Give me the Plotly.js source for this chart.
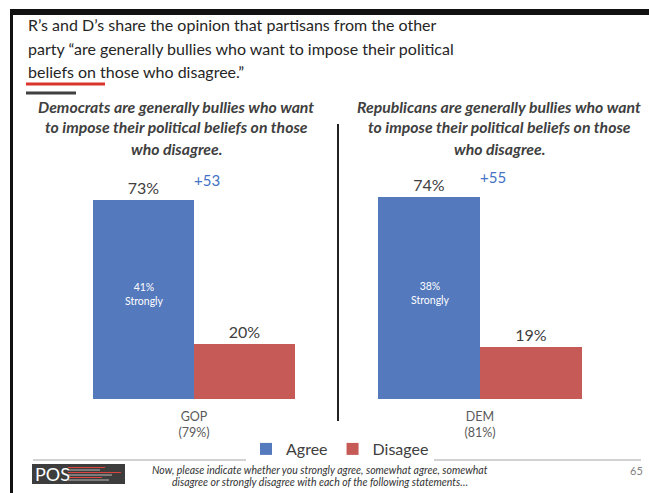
<!DOCTYPE html>
<html>
<head>
<meta charset="utf-8">
<script src="https://cdn.plot.ly/plotly-3.0.1.min.js"></script>
<style>html,body{margin:0;padding:0;background:#fff;}#chart{width:649px;height:493px;}</style>
</head>
<body>
<div id="chart"></div>
<script>
// ---- data ----
const panels = ["GOP", "DEM"];
const panelBase = ["(79%)", "(81%)"];
const agree = [73, 74];
const disagree = [20, 19];
const strongly = [41, 38];
const net = [53, 55];
const seriesNames = ["Agree", "Disagee"];
const titleLines = [
  "R\u2019s and D\u2019s share the opinion that partisans from the other",
  "party \u201care generally bullies who want to impose their political",
  "beliefs on those who disagree.\u201d"
];
const panelTitleLines = [
  ["Democrats are generally bullies who want", "to impose their political beliefs on those", "who disagree."],
  ["Republicans are generally bullies who want", "to impose their political beliefs on those", "who disagree."]
];
const footnoteLines = [
  "Now, please indicate whether you strongly agree, somewhat agree, somewhat",
  "disagree or strongly disagree with each of the following statements\u2026"
];
const pageNumber = "65";

const W = 649, H = 493;
const px = v => v / W;
const py = v => 1 - v / H;
const FONT = "Lato, 'Open Sans', sans-serif";
const BLUE = "#5479bd", RED = "#c55a56";

const traces = [];
const annotations = [];
const axes = ["", "2"];
for (let i = 0; i < panels.length; i++) {
  const xa = "x" + axes[i], ya = "y" + axes[i];
  const label = panels[i] + "<br>" + panelBase[i];
  traces.push({
    type: "bar", x: [label], y: [agree[i]], name: seriesNames[0],
    xaxis: xa, yaxis: ya, marker: {color: BLUE},
    text: [agree[i] + "%"], textposition: "outside", cliponaxis: false,
    textfont: {color: "#404040", size: 16, family: FONT},
    showlegend: i === 0, legendgroup: "a", hoverinfo: "none"
  });
  traces.push({
    type: "bar", x: [label], y: [disagree[i]], name: seriesNames[1],
    xaxis: xa, yaxis: ya, marker: {color: RED},
    text: [disagree[i] + "%"], textposition: "outside", cliponaxis: false,
    textfont: {color: "#404040", size: 16, family: FONT},
    showlegend: i === 0, legendgroup: "d", hoverinfo: "none"
  });
  annotations.push({
    xref: xa, yref: ya, x: label, xshift: -50, y: agree[i] / 2, yshift: 5,
    xanchor: "center", yanchor: "middle",
    text: strongly[i] + "%<br>Strongly", showarrow: false,
    font: {color: "#ffffff", size: 10.5, family: FONT}, align: "center"
  });
  annotations.push({
    xref: xa, yref: ya, x: label, xshift: 13, y: agree[i], yanchor: "bottom", yshift: 9,
    xanchor: "center",
    text: "+" + net[i], showarrow: false,
    font: {color: "#4472c4", size: 15, family: FONT}
  });
  const cx = i === 0 ? 176 : 499;
  const ly = [107, 127, 148];
  panelTitleLines[i].forEach((t, k) => {
    annotations.push({
      xref: "paper", yref: "paper", x: px(cx), y: py(ly[k]), xanchor: "center", yanchor: "middle",
      text: "<b><i>" + t + "</i></b>", showarrow: false,
      font: {color: "#404040", size: 15.8, family: FONT}
    });
  });
}

const tly = [25, 48, 71];
titleLines.forEach((t, k) => {
  annotations.push({
    xref: "paper", yref: "paper", x: px(26), y: py(tly[k]), xanchor: "left", yanchor: "middle",
    text: t, showarrow: false, font: {color: "#262626", size: 16, family: FONT}
  });
});
const fy = [470, 482];
footnoteLines.forEach((t, k) => {
  annotations.push({
    xref: "paper", yref: "paper", x: px(320), y: py(fy[k]), xanchor: "center", yanchor: "middle",
    text: "<i>" + t + "</i>", showarrow: false, font: {color: "#333333", size: 10.5, family: FONT}
  });
});
annotations.push({
  xref: "paper", yref: "paper", x: px(636), y: py(470), xanchor: "center", yanchor: "middle",
  text: pageNumber, showarrow: false, font: {color: "#7f7f7f", size: 11, family: FONT}
});
annotations.push({
  xref: "paper", yref: "paper", x: px(33), y: py(474), xanchor: "left", yanchor: "middle",
  text: "POS", showarrow: false, font: {color: "#ffffff", size: 18, family: FONT}
});

const shapes = [
  // frame
  {type: "rect", xref: "paper", yref: "paper", x0: px(10), x1: px(649), y0: py(9), y1: py(15), fillcolor: "#111", line: {width: 0}},
  {type: "rect", xref: "paper", yref: "paper", x0: px(10), x1: px(13), y0: py(9), y1: py(493), fillcolor: "#111", line: {width: 0}},
  // title underlines
  {type: "line", xref: "paper", yref: "paper", x0: px(26), x1: px(105), y0: py(84), y1: py(84), line: {color: "#d9352b", width: 3}},
  {type: "line", xref: "paper", yref: "paper", x0: px(26), x1: px(76), y0: py(93), y1: py(93), line: {color: "#404040", width: 3}},
  // divider
  {type: "line", xref: "paper", yref: "paper", x0: px(338), x1: px(338), y0: py(124), y1: py(421), line: {color: "#222", width: 2}},
  // footer line
  {type: "line", xref: "paper", yref: "paper", x0: px(33), x1: px(641), y0: py(460), y1: py(460), line: {color: "#a6a6a6", width: 1}},
  // logo
  {type: "rect", xref: "paper", yref: "paper", x0: px(32), x1: px(125), y0: py(464), y1: py(484), fillcolor: "#3d3d3d", line: {width: 0}},
  {type: "line", xref: "paper", yref: "paper", x0: px(68), x1: px(105), y0: py(467.5), y1: py(467.5), line: {color: "#d9453e", width: 1}},
  {type: "line", xref: "paper", yref: "paper", x0: px(68), x1: px(100), y0: py(470), y1: py(470), line: {color: "#bbbbbb", width: 1}},
  {type: "line", xref: "paper", yref: "paper", x0: px(68), x1: px(121), y0: py(472.5), y1: py(472.5), line: {color: "#d9453e", width: 1}},
  {type: "line", xref: "paper", yref: "paper", x0: px(68), x1: px(112), y0: py(475), y1: py(475), line: {color: "#bbbbbb", width: 1}},
  {type: "line", xref: "paper", yref: "paper", x0: px(68), x1: px(102), y0: py(477.5), y1: py(477.5), line: {color: "#d9453e", width: 1}},
  {type: "line", xref: "paper", yref: "paper", x0: px(68), x1: px(109), y0: py(480), y1: py(480), line: {color: "#bbbbbb", width: 1}}
];

const yTop = 180.6; // px where y=80
const ydom = [1 - 399 / H, 1 - yTop / H];
const xaxisBase = {type: "category", showgrid: false, zeroline: false, showline: false, ticks: "",
  ticklabelstandoff: 8,
  tickfont: {color: "#595959", size: 12.5, family: FONT}, fixedrange: true};
const yaxisBase = {range: [0, 80], visible: false, showgrid: false, zeroline: false, fixedrange: true};

const layout = {
  width: W, height: H,
  margin: {l: 0, r: 0, t: 0, b: 0},
  paper_bgcolor: "#ffffff", plot_bgcolor: "rgba(0,0,0,0)",
  barmode: "group", bargap: 0, bargroupgap: 0,
  font: {family: FONT},
  xaxis: Object.assign({}, xaxisBase, {domain: [px(93), px(295)], anchor: "y"}),
  yaxis: Object.assign({}, yaxisBase, {domain: ydom, anchor: "x"}),
  xaxis2: Object.assign({}, xaxisBase, {domain: [px(378), px(582)], anchor: "y2"}),
  yaxis2: Object.assign({}, yaxisBase, {domain: ydom, anchor: "x2"}),
  legend: {orientation: "h", x: px(340), xanchor: "center", y: py(449), yanchor: "middle",
    font: {size: 16, color: "#404040", family: FONT}, itemwidth: 30, traceorder: "normal",
    tracegroupgap: 0},
  annotations: annotations,
  shapes: shapes
};

Plotly.newPlot("chart", traces, layout, {displayModeBar: false, staticPlot: true});
</script>
</body>
</html>
